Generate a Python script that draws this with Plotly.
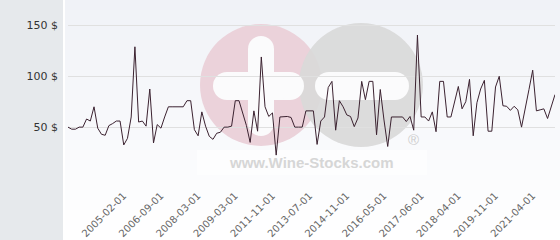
import plotly.graph_objects as go

# ---- data ----
PRICES = [
    50, 48, 48, 50, 50, 58, 56, 70, 49, 43,
    42, 51.5, 53.5, 56, 56, 32.5, 39, 60, 129, 55,
    56, 51, 87.5, 34.5, 52.5, 49, 60, 70, 70, 70,
    70, 70, 76, 76, 47.5, 41.5, 65, 51, 41, 38,
    44, 45, 50, 50, 51, 76, 76, 63, 51.5, 35,
    66, 46, 119, 70, 60.5, 64, 22.5, 60, 60.5, 60.5,
    59.5, 50, 50, 50, 66, 66, 66, 33, 56, 60,
    89, 95, 47, 76, 70, 62, 60.5, 50.5, 59, 95,
    77, 95, 95, 42.5, 87, 57, 31, 60, 60, 60,
    60, 55.5, 60.5, 47, 140.5, 60, 60, 56, 65, 45.5,
    95, 95, 60, 60, 75, 90, 68, 75, 97, 41.5,
    74, 87.5, 96, 46, 46, 89.5, 100, 71, 70.5, 66.5,
    70.5, 67, 50, 67, 87, 106, 66, 67, 68, 58.5,
    70.5, 82,
]
POINT_INDEX = list(range(len(PRICES)))
TICK_INDEX = [16, 26, 36, 46, 56, 66, 76, 86, 96, 106, 116, 126]
TICK_LABELS = ["2005-02-01", "2006-09-01", "2008-03-01", "2009-03-01",
               "2011-11-01", "2013-07-01", "2014-11-01", "2016-05-01",
               "2017-06-01", "2018-04-01", "2019-11-01", "2021-04-01"]
Y_TICKS = [0, 50, 100, 150]
Y_LABELS = ["", "50 $", "100 $", "150 $"]

# ---- layout geometry (pixels) ----
WIDTH, HEIGHT = 560, 240
ML, MR, MT, MB = 68, 5, 0, 62
PW = WIDTH - ML - MR
PH = HEIGHT - MT - MB


def fx(x):
    return (x - ML) / PW


def fy(y):
    return (MT + PH - y) / PH


shapes = []
# left grey panel
shapes.append(dict(type="rect", xref="paper", yref="paper", layer="below",
                   x0=fx(0), x1=fx(63), y0=fy(HEIGHT), y1=fy(0),
                   fillcolor="#e6e9ec", line_width=0))
# gradient background
NB = 24
for i in range(NB):
    y0 = i * HEIGHT / NB
    y1 = (i + 1) * HEIGHT / NB
    t = i / (NB - 1)
    r = round(240 + (255 - 240) * t)
    g = round(242 + (255 - 242) * t)
    b = round(247 + (255 - 247) * t)
    shapes.append(dict(type="rect", xref="paper", yref="paper", layer="below",
                       x0=fx(65), x1=fx(WIDTH), y0=fy(y1 + 0.5), y1=fy(y0),
                       fillcolor=f"rgb({r},{g},{b})", line_width=0))

PINK = "#ebd2da"
GREY = "#d9d9d9"
WHITE = "#fbfbfc"


def circle(cx, cy, rad, color, opacity=1.0):
    return dict(type="circle", xref="paper", yref="paper", layer="below",
                x0=fx(cx - rad), x1=fx(cx + rad), y0=fy(cy + rad), y1=fy(cy - rad),
                fillcolor=color, line_width=0, opacity=opacity)


def rect(x0, y0, x1, y1, color, opacity=1.0):
    return dict(type="rect", xref="paper", yref="paper", layer="below",
                x0=fx(x0), x1=fx(x1), y0=fy(y1), y1=fy(y0),
                fillcolor=color, line_width=0, opacity=opacity)


def hbar(x0, x1, yc, h, color):
    r = h / 2
    return [rect(x0 + r, yc - r, x1 - r, yc + r, color),
            circle(x0 + r, yc, r, color), circle(x1 - r, yc, r, color)]


def vbar(xc, y0, y1, w, color):
    r = w / 2
    return [rect(xc - r, y0 + r, xc + r, y1 - r, color),
            circle(xc, y0 + r, r, color), circle(xc, y1 - r, r, color)]


# watermark logo
shapes.append(circle(261, 85, 61, PINK))
shapes.append(circle(361, 85, 62, GREY, 0.92))
shapes += hbar(213, 304, 86, 28, WHITE)
shapes += vbar(261, 36, 136, 26, WHITE)
shapes += hbar(315, 409, 86, 28, WHITE)
shapes.append(rect(197, 150, 427, 175, "#ffffff", 0.6))

annotations = [
    dict(xref="paper", yref="paper", x=fx(311), y=fy(162), showarrow=False,
         text="<b>www.Wine-Stocks.com</b>",
         font=dict(family="Liberation Sans", size=15, color="#d6d6d6"),
         xanchor="center", yanchor="middle"),
    dict(xref="paper", yref="paper", x=fx(413), y=fy(139), showarrow=False,
         text="®", font=dict(family="Liberation Sans", size=15, color="#cdcdcd"),
         xanchor="center", yanchor="middle"),
]

fig = go.Figure()
fig.add_trace(go.Scatter(
    x=POINT_INDEX, y=PRICES, mode="lines",
    line=dict(color="#3b2230", width=1),
    hoverinfo="skip",
))

fig.update_layout(
    width=WIDTH, height=HEIGHT,
    margin=dict(l=ML, r=MR, t=MT, b=MB, pad=0),
    paper_bgcolor="#ffffff",
    plot_bgcolor="rgba(0,0,0,0)",
    showlegend=False,
    shapes=shapes,
    annotations=annotations,
    xaxis=dict(
        range=[0, len(PRICES) - 1],
        tickmode="array", tickvals=TICK_INDEX, ticktext=TICK_LABELS,
        tickangle=-45, showgrid=False, zeroline=False, showline=False,
        ticks="",
        ticklabelstandoff=9,
        ticklabelshift=-4,
        tickfont=dict(family="DejaVu Sans", size=10, color="#666666"),
    ),
    yaxis=dict(
        range=[0, 175],
        tickmode="array", tickvals=Y_TICKS, ticktext=Y_LABELS,
        showgrid=True, gridcolor="#e0e0e0", gridwidth=1,
        zeroline=False, showline=False, ticks="",
        ticklabelstandoff=9,
        tickfont=dict(family="DejaVu Sans", size=11, color="#333333"),
    ),
)

fig.write_html("out.html")
